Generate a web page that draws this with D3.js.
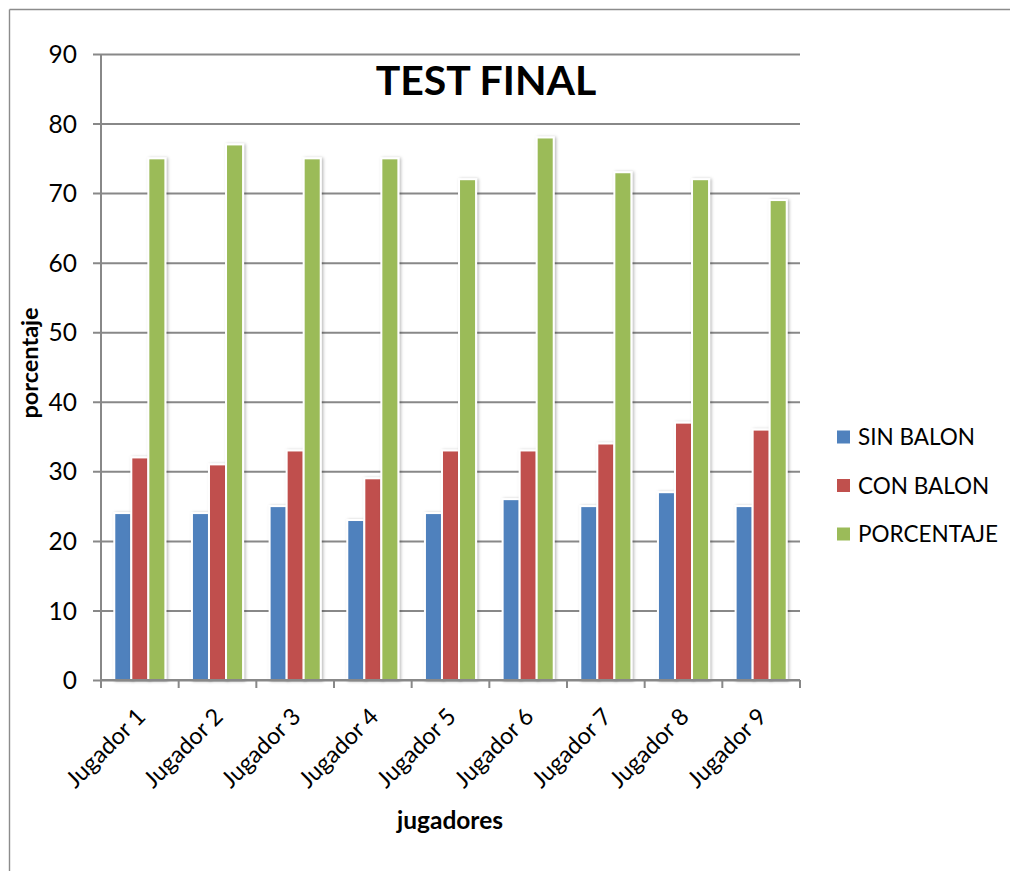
<!DOCTYPE html>
<html>
<head>
<meta charset="utf-8">
<script src="https://cdn.jsdelivr.net/npm/d3@7"></script>
<style>
  html, body { margin: 0; padding: 0; background: #fff; }
  svg { display: block; font-family: Lato, "Open Sans", sans-serif; }
</style>
</head>
<body>
<svg id="chart" width="1010" height="871"></svg>
<script>
// Players and scores per test
const categories = ["Jugador 1", "Jugador 2", "Jugador 3", "Jugador 4", "Jugador 5",
                    "Jugador 6", "Jugador 7", "Jugador 8", "Jugador 9"];
const seriesNames = ["SIN BALON", "CON BALON", "PORCENTAJE"];
const sinBalon   = [24, 24, 25, 23, 24, 26, 25, 27, 25];
const conBalon   = [32, 31, 33, 29, 33, 33, 34, 37, 36];
const porcentaje = [75, 77, 75, 75, 72, 78, 73, 72, 69];
const yTicks = [0, 10, 20, 30, 40, 50, 60, 70, 80, 90];
const colors = ["#4F81BD", "#C0504D", "#9BBB59"];

const seriesValues = [sinBalon, conBalon, porcentaje];
const rows = categories.map((c, i) => ({
  cat: c,
  vals: seriesNames.map((s, k) => ({ key: s, value: seriesValues[k][i], k }))
}));

const svg = d3.select("#chart");

// soft shadow behind the bars
const defs = svg.append("defs");
const f = defs.append("filter").attr("id", "shadow")
  .attr("x", "-50%").attr("y", "-10%").attr("width", "200%").attr("height", "120%");
f.append("feDropShadow").attr("dx", 1.5).attr("dy", 0.5)
  .attr("stdDeviation", 1.8).attr("flood-color", "#000").attr("flood-opacity", 0.28);

// chart frame (top and left edges)
svg.append("line").attr("x1", 9.5).attr("x2", 1010).attr("y1", 9.5).attr("y2", 9.5)
  .attr("stroke", "#8c8c8c").attr("stroke-width", 1.4);
svg.append("line").attr("x1", 9.5).attr("x2", 9.5).attr("y1", 9.5).attr("y2", 871)
  .attr("stroke", "#8c8c8c").attr("stroke-width", 1.4);

const plotLeft = 101, plotRight = 800, plotTop = 54, plotBottom = 680;

const x = d3.scaleBand().domain(categories).range([plotLeft, plotRight]).paddingInner(0).paddingOuter(0);
const xs = d3.scaleBand().domain(seriesNames).range([0, x.bandwidth()])
  .paddingInner(0).paddingOuter(0.78);
const y = d3.scaleLinear().domain([0, 90]).range([plotBottom, plotTop]);

// horizontal gridlines with left tick stubs
const yAxis = d3.axisLeft(y).tickValues(yTicks).tickSize(-(plotRight - plotLeft)).tickFormat(d3.format("d"))
  .tickPadding(16);
const gy = svg.append("g").attr("transform", `translate(${plotLeft},0)`).call(yAxis);
gy.select(".domain").remove();
gy.selectAll(".tick line").attr("stroke", "#888").attr("stroke-width", 2)
  .attr("x1", -8);
gy.selectAll(".tick text").attr("font-size", 24.5).attr("fill", "#000")
  .attr("font-family", "Lato, sans-serif").attr("dy", "0.35em").attr("x", -24);

// y axis line
svg.append("line").attr("x1", plotLeft).attr("x2", plotLeft).attr("y1", plotTop).attr("y2", plotBottom + 8)
  .attr("stroke", "#888").attr("stroke-width", 2);

// bars
const groups = svg.append("g").selectAll("g").data(rows).join("g")
  .attr("transform", d => `translate(${x(d.cat)},0)`);
groups.selectAll("rect").data(d => d.vals).join("rect")
  .attr("x", d => xs(d.key))
  .attr("width", xs.bandwidth())
  .attr("y", d => y(d.value))
  .attr("height", d => y(0) - y(d.value))
  .attr("fill", d => colors[d.k])
  .attr("stroke", "#fff").attr("stroke-width", 2)
  .attr("filter", "url(#shadow)");

// x axis with category boundary ticks
const gx = svg.append("g").attr("transform", `translate(0,${plotBottom})`);
gx.append("line").attr("x1", plotLeft).attr("x2", plotRight).attr("y1", 0).attr("y2", 0)
  .attr("stroke", "#888").attr("stroke-width", 2);
const bounds = categories.map(c => x(c)).concat([plotRight]);
gx.selectAll("line.tk").data(bounds).join("line").attr("class", "tk")
  .attr("x1", d => d).attr("x2", d => d).attr("y1", 0).attr("y2", 8)
  .attr("stroke", "#888").attr("stroke-width", 2);

// rotated category labels
gx.selectAll("text.cat").data(categories).join("text").attr("class", "cat")
  .attr("transform", d => `translate(${x(d) + x.bandwidth() / 2 + 7},${38}) rotate(-45)`)
  .attr("text-anchor", "end")
  .attr("font-size", 23.5).attr("fill", "#000")
  .text(d => d);

// title
svg.append("text").attr("x", 486).attr("y", 95).attr("text-anchor", "middle")
  .attr("font-size", 41).attr("font-weight", "bold").attr("fill", "#000")
  .text("TEST FINAL");

// axis titles
svg.append("text").attr("transform", "translate(38,363) rotate(-90)")
  .attr("text-anchor", "middle").attr("font-size", 23.5).attr("font-weight", "bold")
  .attr("fill", "#000").text("porcentaje");
svg.append("text").attr("x", 450).attr("y", 829).attr("text-anchor", "middle")
  .attr("font-size", 24.5).attr("font-weight", "bold").attr("fill", "#000")
  .text("jugadores");

// legend
const lg = svg.append("g").selectAll("g").data(seriesNames).join("g")
  .attr("transform", (d, i) => `translate(837,${437 + i * 48.5})`);
lg.append("rect").attr("x", 0).attr("y", -6.5).attr("width", 13).attr("height", 13)
  .attr("fill", (d, i) => colors[i]);
lg.append("text").attr("x", 21).attr("y", 0).attr("dy", "0.36em")
  .attr("font-size", 22.5).attr("fill", "#000").text(d => d);
</script>
</body>
</html>
